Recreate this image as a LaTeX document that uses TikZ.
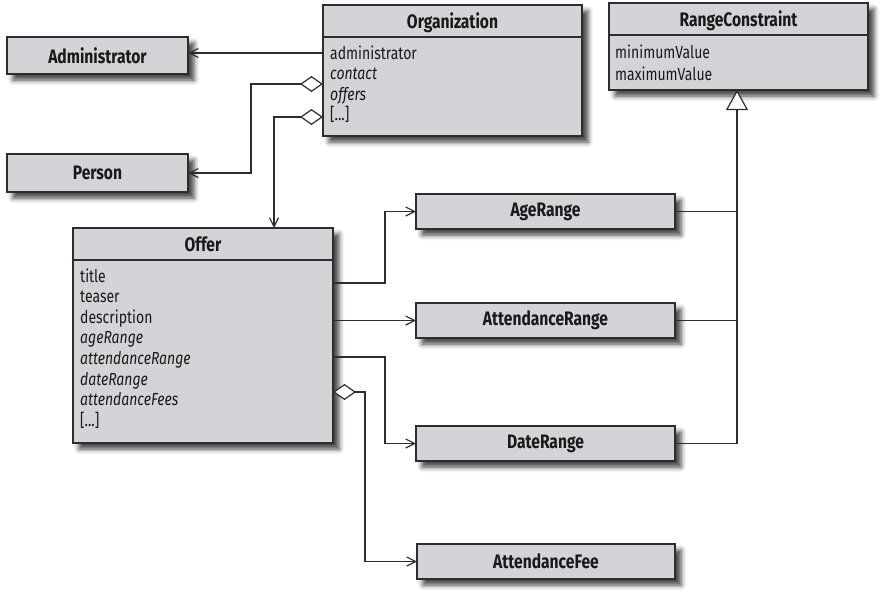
\documentclass[tikz,border=0pt]{standalone}
\usepackage{fontspec}
\setmainfont{Fira Sans}[FakeStretch=0.8]
\usetikzlibrary{arrows.meta,shadows.blur}
\definecolor{boxgray}{RGB}{211,212,215}
\definecolor{linegray}{RGB}{45,45,45}
\begin{document}
\begin{tikzpicture}[x=1pt,y=-1pt,
  cls/.style={draw=linegray, line width=1.4pt, fill=boxgray, inner sep=0pt, outer sep=0pt,
    blur shadow={shadow xshift=6pt, shadow yshift=-6pt, shadow blur radius=5pt, shadow opacity=75},
    font=\fontsize{19.5}{22}\selectfont\bfseries, text=black!90},
  ttl/.style={font=\fontsize{19.5}{22}\selectfont\bfseries, text=black!90, anchor=base, inner sep=0pt},
  att/.style={font=\fontsize{17.5}{20}\selectfont, text=black!90, anchor=base west, inner sep=0pt},
  divider/.style={draw=linegray, line width=1.1pt},
  con/.style={draw=linegray, line width=1.2pt},
  assoc/.style={con, -{Straight Barb[length=9pt,width=9pt]}},
  aggassoc/.style={con, {Diamond[fill=white,length=23pt,width=16pt]}-{Straight Barb[length=9pt,width=9pt]}},
  gen/.style={con, -{Triangle[fill=white,length=20pt,width=22pt]}}]
\useasboundingbox (0,0) rectangle (885,597);

% ---- boxes ----
\node[cls, minimum width=181pt, minimum height=37pt] (admin) at (97.5,55.5) {Administrator};
\node[cls, minimum width=181pt, minimum height=38pt] (person) at (97.5,173) {Person};
\node[cls, minimum width=259pt, minimum height=131pt] (org) at (452.5,70.5) {};
\node[cls, minimum width=259pt, minimum height=87pt] (rc) at (738.5,46.5) {};
\node[cls, minimum width=260pt, minimum height=215pt] (offer) at (203,335.5) {};
\node[cls, minimum width=259pt, minimum height=35pt] (agerange) at (545.5,211.5) {AgeRange};
\node[cls, minimum width=259pt, minimum height=35pt] (attrange) at (545.5,320.5) {AttendanceRange};
\node[cls, minimum width=259pt, minimum height=35pt] (daterange) at (545.5,443.5) {DateRange};
\node[cls, minimum width=258pt, minimum height=35pt] (attfee) at (546,561.5) {AttendanceFee};

% ---- Organization ----
\node[ttl] (orgt) at (452.5,28) {Organization};
\draw[divider] ([yshift=-32pt]org.north west) -- ([yshift=-32pt]org.north east);
\node[att] (o1) at (330,59) {administrator};
\node[att] (o2) at (330,79.5) {\itshape contact};
\node[att] (o3) at (330,100) {\itshape offers};
\node[att] (o4) at (330,120.5) {[...]};

% ---- RangeConstraint ----
\node[ttl] (rct) at (738.5,27) {RangeConstraint};
\draw[divider] ([yshift=-32pt]rc.north west) -- ([yshift=-32pt]rc.north east);
\node[att] (r1) at (615,58.5) {minimumValue};
\node[att] (r2) at (615,80) {maximumValue};

% ---- Offer ----
\node[ttl] (offt) at (203,251.5) {Offer};
\draw[divider] ([yshift=-32pt]offer.north west) -- ([yshift=-32pt]offer.north east);
\node[att] (f1) at (80,282) {title};
\node[att] (f2) at (80,302.6) {teaser};
\node[att] (f3) at (80,323.2) {description};
\node[att] (f4) at (80,343.8) {\itshape ageRange};
\node[att] (f5) at (80,364.4) {\itshape attendanceRange};
\node[att] (f6) at (80,385) {\itshape dateRange};
\node[att] (f7) at (80,405.6) {\itshape attendanceFees};
\node[att] (f8) at (80,426.2) {[...]};

% ---- connector helper coordinates ----
\coordinate (adminy) at (0,53);
\coordinate (c1) at (251,84);
\coordinate (c2) at (274,117);
\coordinate (e1) at (385,283);
\coordinate (e2) at (0,320.5);
\coordinate (e3) at (385,357);
\coordinate (e4) at (365,392);
\coordinate (gx) at (737,0);

% ---- connectors ----
\draw[assoc] (org.west |- adminy) -- (admin.east |- adminy);
\draw[aggassoc] (org.west |- c1) -- (c1) |- (person.east);
\draw[aggassoc] (org.west |- c2) -- (c2) -- (offer.north -| c2);
\draw[assoc] (offer.east |- e1) -- (e1) |- (agerange.west);
\draw[assoc] (offer.east |- e2) -- (attrange.west |- e2);
\draw[assoc] (offer.east |- e3) -- (e3) |- (daterange.west);
\draw[aggassoc] (offer.east |- e4) -- (e4) |- (attfee.west);

\draw[con] (agerange.east) -- (agerange.east -| gx);
\draw[con] (attrange.east) -- (attrange.east -| gx);
\draw[gen] (daterange.east) -- (daterange.east -| gx) -- (rc.south -| gx);
\end{tikzpicture}
\end{document}
